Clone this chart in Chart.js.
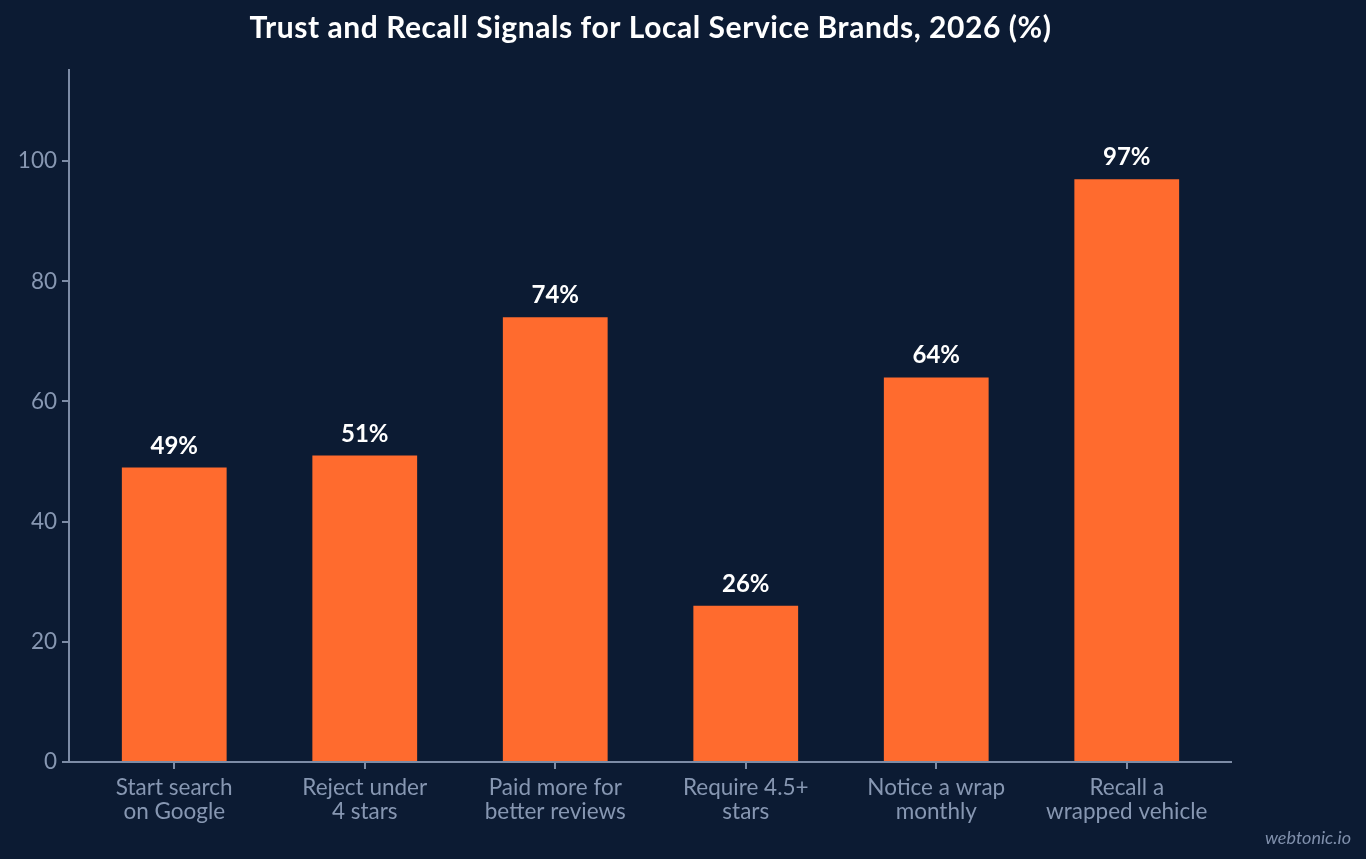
<!DOCTYPE html>
<html>
<head>
<meta charset="utf-8">
<script src="https://cdn.jsdelivr.net/npm/chart.js@4.4.1/dist/chart.umd.min.js"></script>
<style>
  html, body { margin: 0; padding: 0; background: #0c1b33; }
  #wrap { width: 1366px; height: 859px; position: relative; }
</style>
</head>
<body>
<div id="wrap"><canvas id="c" width="1366" height="859"></canvas></div>
<script>
const categories = [
  ["Start search", "on Google"],
  ["Reject under", "4 stars"],
  ["Paid more for", "better reviews"],
  ["Require 4.5+", "stars"],
  ["Notice a wrap", "monthly"],
  ["Recall a", "wrapped vehicle"]
];
const values = [49, 51, 74, 26, 64, 97];
const yTicks = [0, 20, 40, 60, 80, 100];
const titleText = "Trust and Recall Signals for Local Service Brands, 2026 (%)";
const watermark = "webtonic.io";

const BG = '#0c1b33';
const BAR = '#ff6b2e';
const AXIS = '#7d8ca6';
const TICKTXT = '#8797b2';

const decor = {
  id: 'decor',
  beforeDraw(chart) {
    const ctx = chart.ctx;
    ctx.save();
    ctx.fillStyle = BG;
    ctx.fillRect(0, 0, chart.width, chart.height);
    ctx.restore();
  },
  afterDraw(chart) {
    const ctx = chart.ctx;
    const ca = chart.chartArea;
    const x = chart.scales.x, y = chart.scales.y;
    const axX = ca.left - 10;
    const axR = ca.right + 10;
    const y0 = y.getPixelForValue(0);
    ctx.save();
    ctx.strokeStyle = AXIS;
    ctx.lineWidth = 2;
    ctx.beginPath();
    ctx.moveTo(axX, ca.top - 2);
    ctx.lineTo(axX, y0);
    ctx.stroke();
    ctx.beginPath();
    ctx.moveTo(axX, y0);
    ctx.lineTo(axR, y0);
    ctx.stroke();
    yTicks.forEach(v => {
      const py = Math.round(y.getPixelForValue(v));
      ctx.beginPath();
      ctx.moveTo(axX - 7, py);
      ctx.lineTo(axX, py);
      ctx.stroke();
    });
    categories.forEach((c, i) => {
      const px = Math.round(x.getPixelForValue(i));
      ctx.beginPath();
      ctx.moveTo(px, y0);
      ctx.lineTo(px, y0 + 7);
      ctx.stroke();
    });
    const meta = chart.getDatasetMeta(0);
    ctx.fillStyle = '#ffffff';
    ctx.font = 'bold 24px Lato';
    ctx.textAlign = 'center';
    ctx.textBaseline = 'alphabetic';
    meta.data.forEach((bar, i) => {
      ctx.fillText(values[i] + '%', bar.x, bar.y - 14);
    });
    ctx.font = 'bold 30px Lato';
    ctx.letterSpacing = '0.55px';
    ctx.fillText(titleText, (ca.left + ca.right) / 2, 38);
    ctx.letterSpacing = '0px';
    ctx.font = 'italic 18px Lato';
    ctx.fillStyle = '#7f8fab';
    ctx.textAlign = 'right';
    ctx.fillText(watermark, 1351, 844);
    ctx.restore();
  }
};

new Chart(document.getElementById('c'), {
  type: 'bar',
  data: {
    labels: categories,
    datasets: [{
      data: values,
      backgroundColor: BAR,
      borderWidth: 0,
      categoryPercentage: 1.0,
      barPercentage: 0.55
    }]
  },
  options: {
    responsive: false,
    animation: false,
    devicePixelRatio: 1,
    layout: { padding: { top: 71, right: 144, bottom: 0, left: 0 } },
    plugins: {
      legend: { display: false },
      title: { display: false },
      tooltip: { enabled: false }
    },
    scales: {
      x: {
        grid: { display: false },
        border: { display: false },
        ticks: {
          color: TICKTXT,
          font: { family: 'Lato', size: 22.5, lineHeight: 1.0667 },
          padding: 6,
          maxRotation: 0,
          autoSkip: false
        },
        afterFit(s) { s.height = 97; }
      },
      y: {
        min: 0,
        max: 115,
        grid: { display: false },
        border: { display: false },
        afterBuildTicks(s) { s.ticks = yTicks.map(v => ({ value: v })); },
        ticks: {
          color: TICKTXT,
          font: { family: 'Lato', size: 22.5 },
          padding: 14
        },
        afterFit(s) { s.width = 79; }
      }
    }
  },
  plugins: [decor]
});
</script>
</body>
</html>
